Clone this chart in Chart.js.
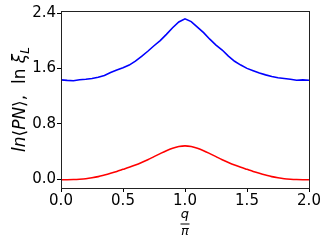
<!DOCTYPE html>
<html>
<head>
<meta charset="utf-8">
<script src="https://cdn.jsdelivr.net/npm/chart.js@4.4.1/dist/chart.umd.min.js"></script>
<style>
  html, body { margin: 0; padding: 0; background: #fff; }
  #wrap { width: 329px; height: 247px; position: relative; }
</style>
</head>
<body>
<div id="wrap"><canvas id="chart"></canvas></div>
<script>
// q / pi grid
const qValues = [0.00, 0.05, 0.10, 0.15, 0.20, 0.25, 0.30, 0.35, 0.40, 0.45,
                 0.50, 0.55, 0.60, 0.65, 0.70, 0.75, 0.80, 0.85, 0.90, 0.95,
                 1.00, 1.05, 1.10, 1.15, 1.20, 1.25, 1.30, 1.35, 1.40, 1.45,
                 1.50, 1.55, 1.60, 1.65, 1.70, 1.75, 1.80, 1.85, 1.90, 1.95, 2.00];

// ln xi_L (blue, slightly noisy)
const lnXi = [1.435, 1.428, 1.424, 1.438, 1.445, 1.456, 1.474, 1.500, 1.543, 1.580,
              1.612, 1.650, 1.708, 1.775, 1.850, 1.930, 2.005, 2.095, 2.190, 2.275,
              2.320, 2.280, 2.200, 2.120, 2.025, 1.940, 1.868, 1.780, 1.705, 1.650,
              1.602, 1.568, 1.535, 1.508, 1.485, 1.466, 1.455, 1.444, 1.430, 1.436, 1.430];

// ln<PN> (red, smooth)
const lnPN = [-0.010, -0.010, -0.008, -0.003, 0.005, 0.018, 0.035, 0.058, 0.083, 0.110,
              0.140, 0.170, 0.203, 0.240, 0.280, 0.324, 0.368, 0.410, 0.445, 0.470,
              0.480, 0.470, 0.445, 0.410, 0.368, 0.324, 0.280, 0.240, 0.203, 0.170,
              0.140, 0.110, 0.083, 0.058, 0.035, 0.018, 0.005, -0.003, -0.008, -0.010, -0.010];

const xTicks = [0.0, 0.5, 1.0, 1.5, 2.0];
const yTicks = [0.0, 0.8, 1.6, 2.4];

const FONT = "'DejaVu Sans', sans-serif";

function toPoints(ys) {
  return qValues.map(function (q, i) { return { x: q, y: ys[i] }; });
}

// frame + axis titles (math-like text)
const decorPlugin = {
  id: 'decor',
  afterDraw(chart) {
    const ctx = chart.ctx;
    const a = chart.chartArea;
    ctx.save();
    ctx.strokeStyle = '#222';
    ctx.lineWidth = 1;
    ctx.strokeRect(Math.round(a.left) + 0.5, Math.round(a.top) + 0.5,
                   Math.round(a.right - a.left), Math.round(a.bottom - a.top));

    // y title: ln<PN>,  ln xi_L
    const size = 17;
    const parts = [
      { t: 'ln', it: true }, { t: '\u27E8' }, { t: 'PN', it: true }, { t: '\u27E9' },
      { t: ',  ' }, { t: 'ln ' }, { t: '\u03BE', it: true }, { t: 'L', it: true, sub: true }
    ];
    function setFont(p) {
      const s = p.sub ? Math.round(size * 0.7) : size;
      ctx.font = (p.it ? 'italic ' : '') + s + 'px ' + FONT;
    }
    let total = 0;
    parts.forEach(function (p) { setFont(p); p.w = ctx.measureText(p.t).width; total += p.w; });
    ctx.translate(24.5, (a.top + a.bottom) / 2);
    ctx.rotate(-Math.PI / 2);
    ctx.fillStyle = '#000';
    ctx.textBaseline = 'alphabetic';
    let x = -total / 2;
    parts.forEach(function (p) {
      setFont(p);
      ctx.fillText(p.t, x, p.sub ? 4 : 0);
      x += p.w;
    });
    ctx.restore();

    // x title: q / pi as a fraction
    ctx.save();
    const cx = (a.left + a.right) / 2;
    ctx.fillStyle = '#000';
    ctx.textAlign = 'center';
    ctx.textBaseline = 'alphabetic';
    ctx.font = 'italic 13px ' + FONT;
    ctx.fillText('q', cx, 218);
    ctx.fillRect(cx - 4.5, 223.5, 9, 1);
    ctx.fillText('\u03C0', cx, 235);
    ctx.restore();
  }
};

new Chart(document.getElementById('chart'), {
  type: 'line',
  data: {
    datasets: [
      { label: 'ln xi_L', data: toPoints(lnXi), borderColor: '#0000ff', borderWidth: 1.6,
        pointRadius: 0, tension: 0, fill: false },
      { label: 'ln <PN>', data: toPoints(lnPN), borderColor: '#ff0000', borderWidth: 1.6,
        pointRadius: 0, tension: 0.3, fill: false }
    ]
  },
  options: {
    responsive: true,
    maintainAspectRatio: false,
    animation: false,
    devicePixelRatio: 1,
    layout: { padding: { left: 0, right: 20, top: 11, bottom: 0 } },
    plugins: { legend: { display: false }, tooltip: { enabled: false } },
    scales: {
      x: {
        type: 'linear', min: 0, max: 2,
        afterBuildTicks(scale) { scale.ticks = xTicks.map(function (v) { return { value: v }; }); },
        afterFit(scale) { scale.height = 59; },
        border: { display: false },
        grid: { drawOnChartArea: false, drawTicks: true, tickLength: 4, color: '#000' },
        ticks: { color: '#000', font: { family: FONT, size: 15 }, padding: 0, maxRotation: 0,
                 callback: function (v) { return Number(v).toFixed(1); } }
      },
      y: {
        type: 'linear', min: -0.13, max: 2.433,
        afterBuildTicks(scale) { scale.ticks = yTicks.map(function (v) { return { value: v }; }); },
        afterFit(scale) { scale.width = 61; },
        border: { display: false },
        grid: { drawOnChartArea: false, drawTicks: true, tickLength: 4, color: '#000' },
        ticks: { color: '#000', font: { family: FONT, size: 15 }, padding: 1,
                 callback: function (v) { return Number(v).toFixed(1); } }
      }
    }
  },
  plugins: [decorPlugin]
});
</script>
</body>
</html>
